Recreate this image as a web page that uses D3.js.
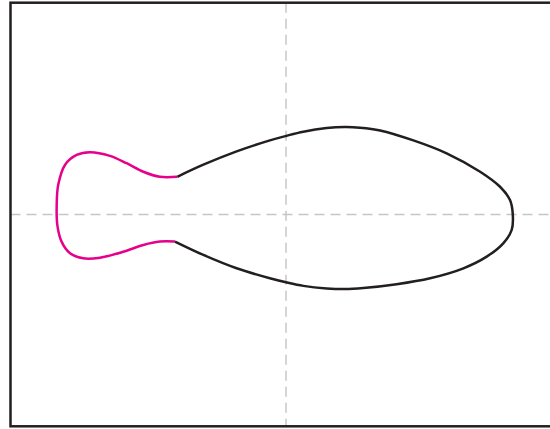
<!DOCTYPE html>
<html lang="en">
<head>
    <meta charset="UTF-8">
    <title>Closed curve</title>
    <script src="https://d3js.org/d3.v7.min.js"></script>
    <style>
        body { margin: 0; background: #fff; }
        svg { display: block; }
        .frame { fill: none; stroke: #231f20; stroke-width: 2.5; }
        .zero { stroke: #c6c6c6; stroke-width: 1.5; stroke-dasharray: 10,6; }
        .curve { fill: none; stroke-width: 2.5; stroke-linejoin: round; }
    </style>
</head>
<body>
<svg width="550" height="429"></svg>
<script>
    // upper waist -> round the right -> lower waist
    var blackX = [-0.513, -0.390, -0.233, -0.076, 0.000, 0.082, 0.192, 0.278, 0.349, 0.444, 0.601, 0.758, 0.916, 1.010, 1.057, 1.070,
                  1.065, 1.025, 0.947, 0.837, 0.680, 0.522, 0.365, 0.278, 0.192, 0.082, 0.000, -0.076, -0.233, -0.390, -0.524];
    var blackY = [0.178, 0.235, 0.298, 0.350, 0.371, 0.391, 0.408, 0.413, 0.410, 0.397, 0.350, 0.289, 0.202, 0.131, 0.068, 0.002,
                  -0.073, -0.136, -0.199, -0.254, -0.301, -0.329, -0.347, -0.352, -0.349, -0.337, -0.320, -0.301, -0.254, -0.191, -0.128];

    // lower waist -> round the left -> upper waist
    var pinkX = [-0.524, -0.595, -0.673, -0.768, -0.878, -0.957, -1.019, -1.059, -1.079, -1.082, -1.075, -1.043, -0.988, -0.925, -0.831, -0.752, -0.673, -0.595, -0.513];
    var pinkY = [-0.128, -0.128, -0.144, -0.176, -0.204, -0.207, -0.183, -0.128, -0.050, 0.045, 0.139, 0.234, 0.281, 0.294, 0.277, 0.242, 0.202, 0.178, 0.178];

    var xDomain = [-1.3, 1.3];
    var yDomain = [-1, 1];

    var svg = d3.select("svg");

    var x = d3.scaleLinear().domain(xDomain).range([10.5, 561.5]);
    var y = d3.scaleLinear().domain(yDomain).range([426.3, 2.7]);

    // dashed zero lines
    svg.append("line").attr("class", "zero")
        .attr("x1", x(xDomain[0])).attr("x2", x(xDomain[1]))
        .attr("y1", y(0)).attr("y2", y(0));
    svg.append("line").attr("class", "zero")
        .attr("x1", x(0)).attr("x2", x(0))
        .attr("y1", y(yDomain[1])).attr("y2", y(yDomain[0]));

    var line = d3.line()
        .x(function(d) { return x(d[0]); })
        .y(function(d) { return y(d[1]); })
        .curve(d3.curveCatmullRom.alpha(0.5));

    svg.append("path").attr("class", "curve")
        .attr("stroke", "#231f20")
        .attr("d", line(d3.zip(blackX, blackY)));

    svg.append("path").attr("class", "curve")
        .attr("stroke", "#e6008a")
        .attr("d", line(d3.zip(pinkX, pinkY)));

    // plot frame
    svg.append("rect").attr("class", "frame")
        .attr("x", x(xDomain[0])).attr("y", y(yDomain[1]))
        .attr("width", x(xDomain[1]) - x(xDomain[0]))
        .attr("height", y(yDomain[0]) - y(yDomain[1]));
</script>
</body>
</html>
